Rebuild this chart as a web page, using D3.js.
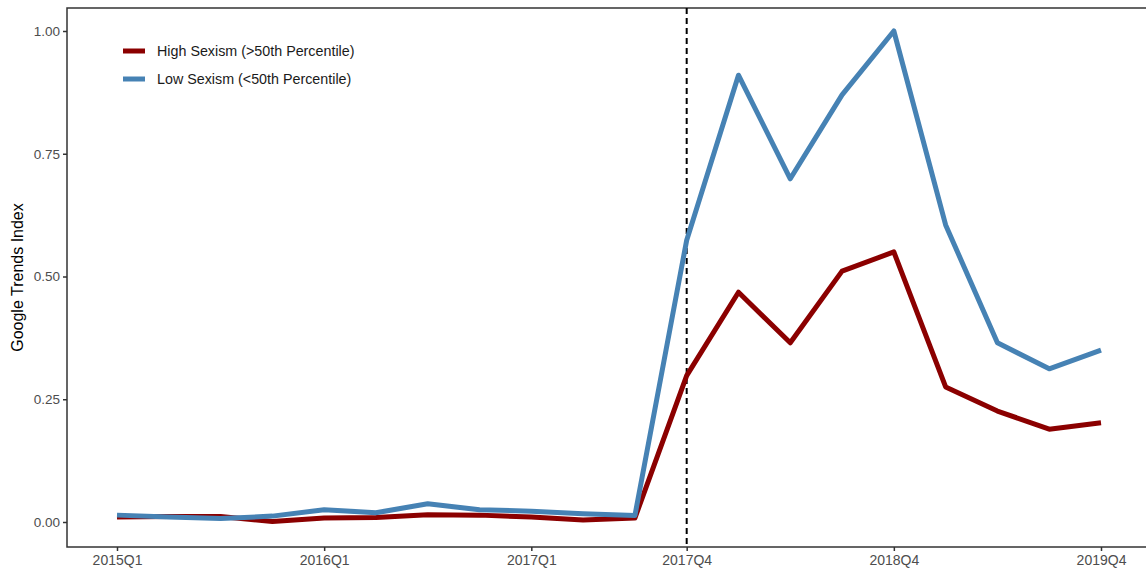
<!DOCTYPE html>
<html>
<head>
<meta charset="utf-8">
<script src="https://cdn.jsdelivr.net/npm/d3@7"></script>
<style>
  body { margin: 0; background: #fff; }
  text { font-family: "Liberation Sans", Arial, sans-serif; }
</style>
</head>
<body>
<div id="chart"></div>
<script>
// quarters 2015Q1 .. 2019Q4
const quarters = [];
for (let y = 2015; y <= 2019; y++) for (let q = 1; q <= 4; q++) quarters.push(y + "Q" + q);

const highSexism = [0.010, 0.011, 0.011, 0.001, 0.008, 0.009, 0.015, 0.014, 0.010, 0.004, 0.008,
  0.298, 0.468, 0.365, 0.511, 0.550, 0.275, 0.226, 0.189, 0.202];
const lowSexism = [0.014, 0.010, 0.007, 0.012, 0.025, 0.019, 0.037, 0.025, 0.022, 0.017, 0.013,
  0.574, 0.910, 0.699, 0.870, 1.000, 0.605, 0.365, 0.312, 0.350];

const tickQuarters = ["2015Q1", "2016Q1", "2017Q1", "2017Q4", "2018Q4", "2019Q4"];
const yTicks = [0, 0.25, 0.5, 0.75, 1.0];
const cutoff = "2017Q4";

const series = [
  {name: "High Sexism (>50th Percentile)", values: highSexism, color: "#8B0000"},
  {name: "Low Sexism (<50th Percentile)", values: lowSexism, color: "#4682B4"}
];

var margin = {top: 8, right: -10, bottom: 26, left: 67},
    width = 1146 - margin.left - margin.right,
    height = 573 - margin.top - margin.bottom;

var svg = d3.select("#chart")
  .append("svg")
  .attr("width", 1146)
  .attr("height", 573);

var g = svg.append("g")
  .attr("transform", "translate(" + margin.left + "," + margin.top + ")");

// x: 2015Q1 at 117, 2019Q4 at 1101 (absolute)
const x = d3.scalePoint()
  .domain(quarters)
  .range([117 - margin.left, 1101 - margin.left]);

const y = d3.scaleLinear()
  .domain([0, 1])
  .range([522 - margin.top, 31 - margin.top]);

// panel border
g.append("rect")
  .attr("x", 0).attr("y", 0)
  .attr("width", width).attr("height", height)
  .style("fill", "none")
  .style("stroke", "#333333")
  .style("stroke-width", 1.5);

// axes
var xAxis = g.append("g")
  .attr("transform", "translate(0," + height + ")")
  .call(d3.axisBottom(x).tickValues(tickQuarters).tickSize(4).tickPadding(4));
var yAxis = g.append("g")
  .call(d3.axisLeft(y).tickValues(yTicks).tickFormat(d3.format(".2f")).tickSize(4).tickPadding(3));

[xAxis, yAxis].forEach(function(a){
  a.select(".domain").remove();
  a.selectAll(".tick line").style("stroke", "#333333").style("stroke-width", 1.5);
  a.selectAll(".tick text")
    .style("fill", "#4D4D4D")
    .style("font-family", "Liberation Sans, Arial, sans-serif");
});
xAxis.selectAll(".tick text").style("font-size", "14px");
yAxis.selectAll(".tick text").style("font-size", "13.5px");

// y axis title
svg.append("text")
  .attr("transform", "translate(23," + (margin.top + height / 2) + ") rotate(-90)")
  .attr("text-anchor", "middle")
  .style("font-size", "16px")
  .style("fill", "#000")
  .text("Google Trends Index");

// dashed line at cutoff
g.append("line")
  .attr("x1", x(cutoff)).attr("x2", x(cutoff))
  .attr("y1", 0).attr("y2", height)
  .style("stroke", "#000")
  .style("stroke-width", 2)
  .style("stroke-dasharray", "6,4");

var line = d3.line()
  .x(function(d, i){ return x(quarters[i]); })
  .y(function(d){ return y(d); });

g.selectAll(".series")
  .data(series)
  .enter().append("path")
  .attr("class", "series")
  .attr("d", function(d){ return line(d.values); })
  .style("fill", "none")
  .style("stroke", function(d){ return d.color; })
  .style("stroke-width", 5)
  .style("stroke-linejoin", "round");

// legend
var leg = svg.selectAll(".leg")
  .data(series)
  .enter().append("g")
  .attr("class", "leg")
  .attr("transform", function(d, i){ return "translate(123," + (51 + 28 * i) + ")"; });
leg.append("line")
  .attr("x1", 0).attr("x2", 22)
  .style("stroke", function(d){ return d.color; })
  .style("stroke-width", 5);
leg.append("text")
  .attr("x", 34)
  .attr("y", 0)
  .attr("dy", "0.35em")
  .style("font-size", "14.3px")
  .style("fill", "#1a1a1a")
  .text(function(d){ return d.name; });
</script>
</body>
</html>
